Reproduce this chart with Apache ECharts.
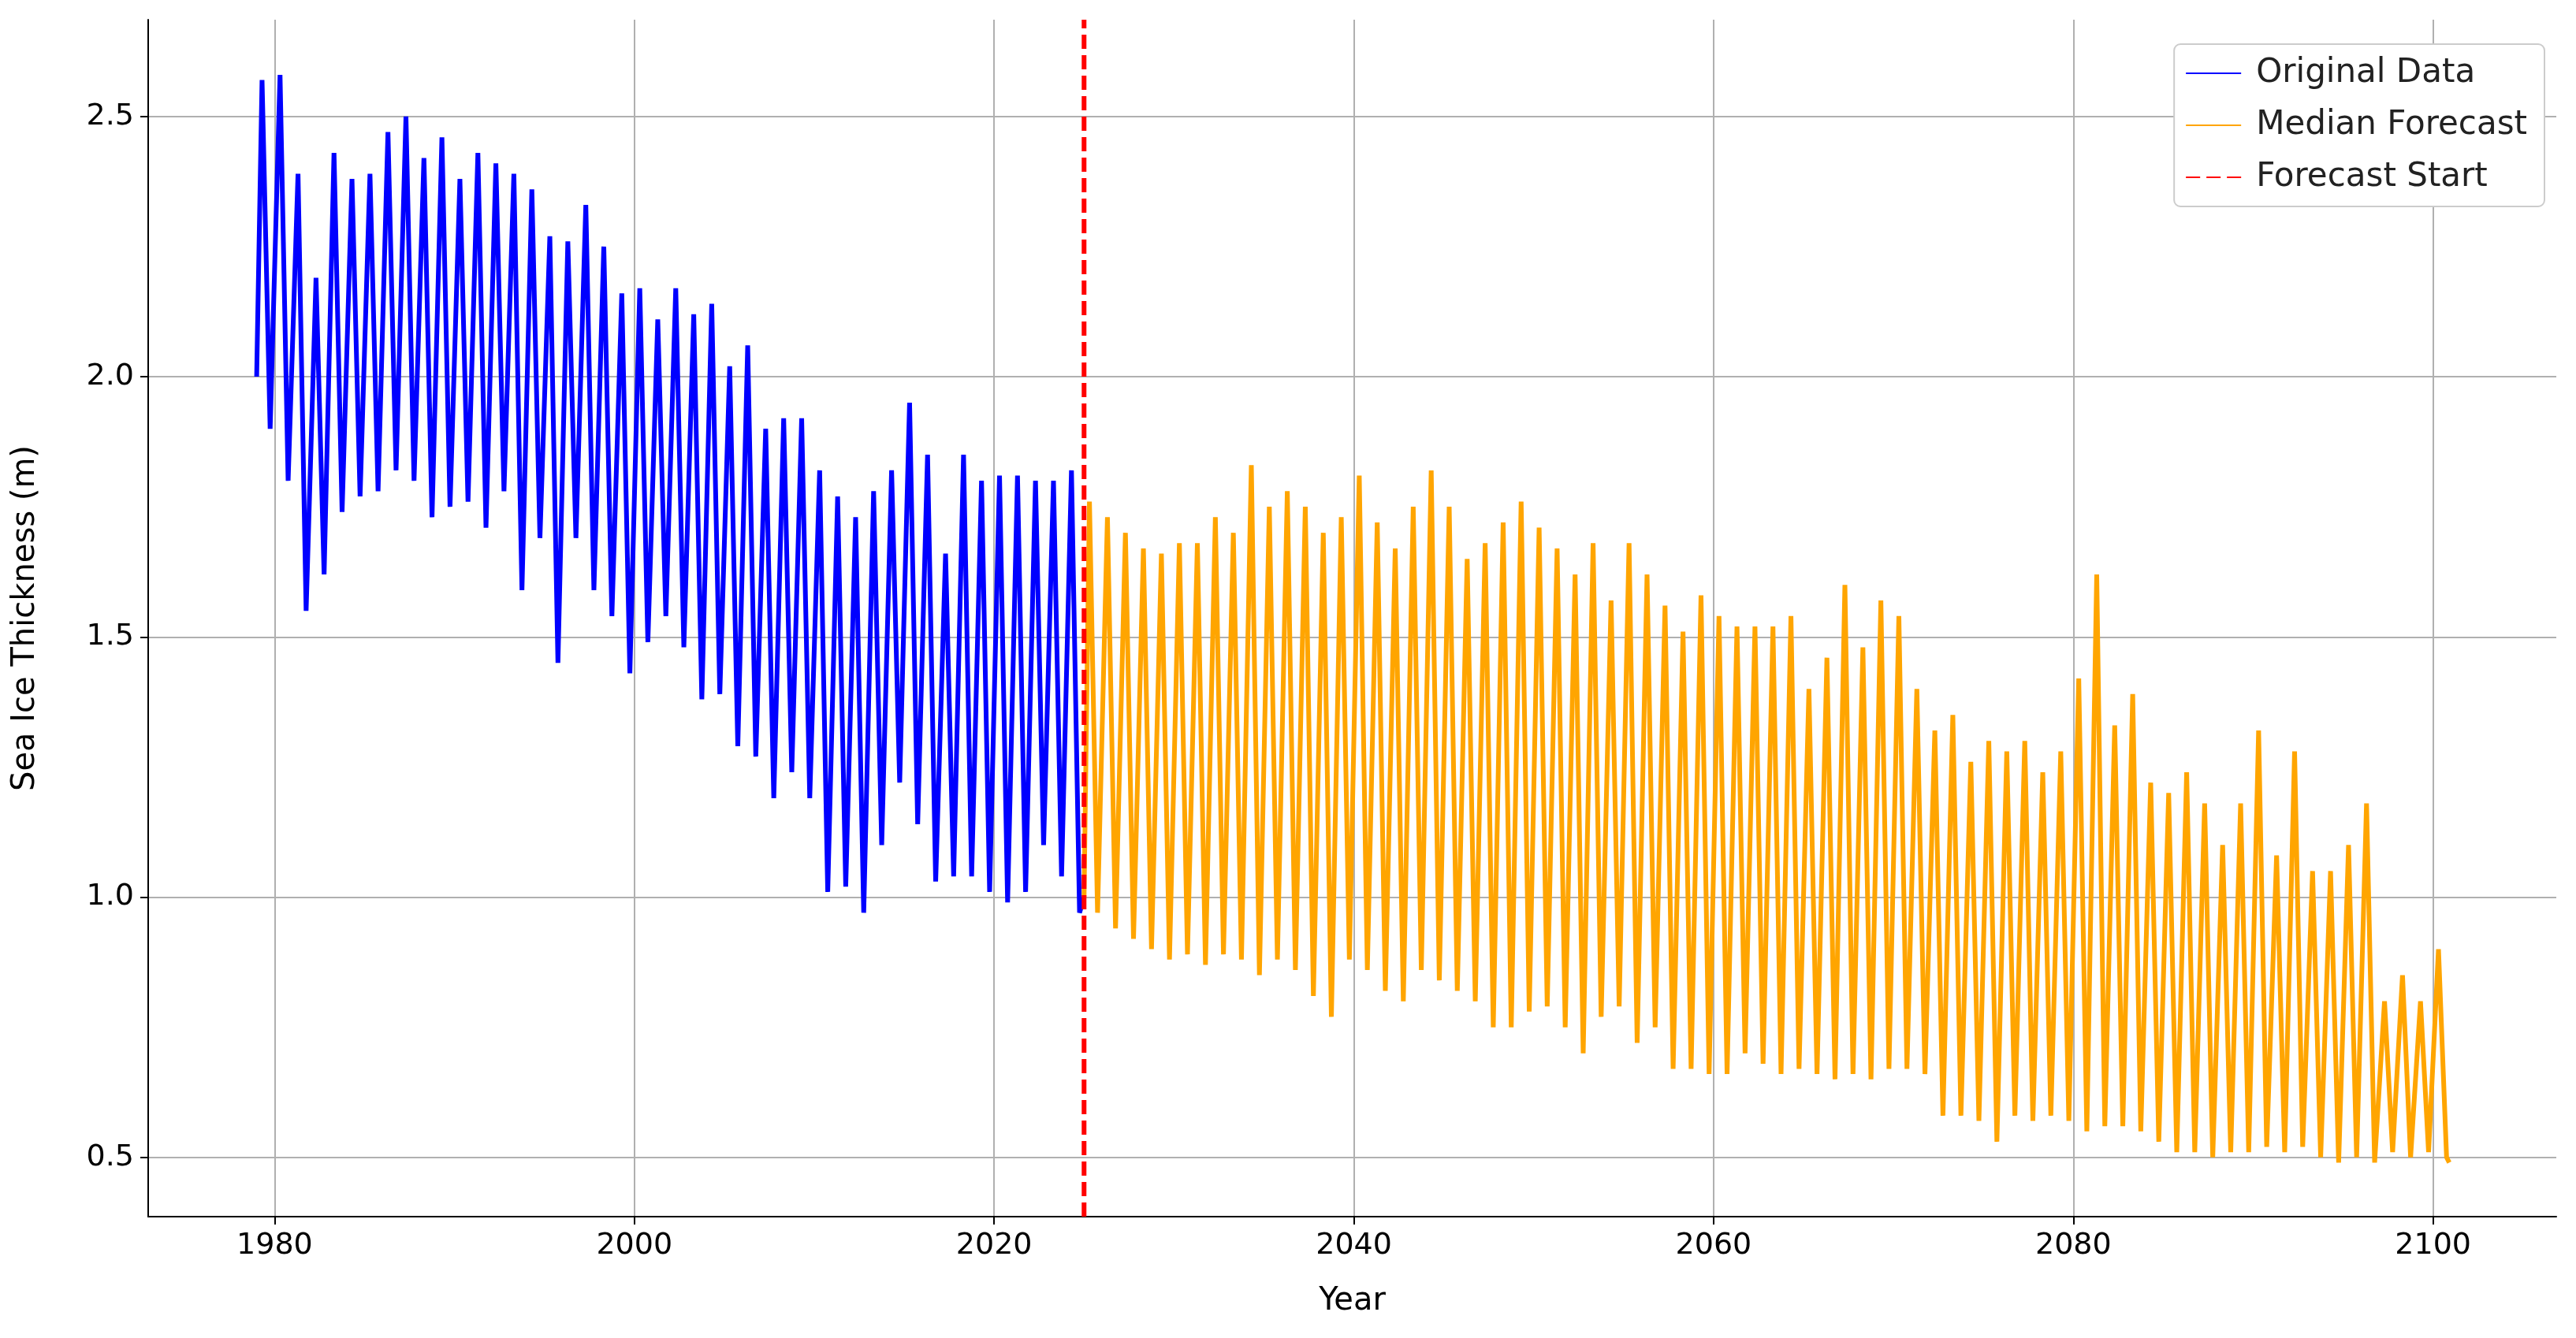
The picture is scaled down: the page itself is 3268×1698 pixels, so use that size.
<!DOCTYPE html>
<html>
<head>
<meta charset="utf-8">
<script src="https://cdn.jsdelivr.net/npm/echarts@6/dist/echarts.min.js"></script>
<style>html,body{margin:0;padding:0;background:#fff}#chart{width:3268px;height:1698px}</style>
</head>
<body>
<div id="chart"></div>
<script>
// annual peak (spring) and trough (autumn) thickness
const obsYears = [];
for (let y = 1979; y <= 2024; y++) obsYears.push(y);
const obsPeaks = [2.57, 2.58, 2.39, 2.19, 2.43, 2.38, 2.39, 2.47, 2.50, 2.42, 2.46, 2.38, 2.43, 2.41, 2.39, 2.36,
	2.27, 2.26, 2.33, 2.25, 2.16, 2.17, 2.11, 2.17, 2.12, 2.14, 2.02, 2.06, 1.90, 1.92, 1.92, 1.82, 1.77, 1.73,
	1.78, 1.82, 1.95, 1.85, 1.66, 1.85, 1.80, 1.81, 1.81, 1.80, 1.80, 1.82];
const obsTroughs = [1.90, 1.80, 1.55, 1.62, 1.74, 1.77, 1.78, 1.82, 1.80, 1.73, 1.75, 1.76, 1.71, 1.78, 1.59, 1.69,
	1.45, 1.69, 1.59, 1.54, 1.43, 1.49, 1.54, 1.48, 1.38, 1.39, 1.29, 1.27, 1.19, 1.24, 1.19, 1.01, 1.02, 0.97,
	1.10, 1.22, 1.14, 1.03, 1.04, 1.04, 1.01, 0.99, 1.01, 1.10, 1.04, 0.97];

const fcYears = [];
for (let y = 2025; y <= 2100; y++) fcYears.push(y);
const fcPeaks = [1.76, 1.73, 1.70, 1.67, 1.66, 1.68, 1.68, 1.73, 1.70, 1.83, 1.75, 1.78, 1.75, 1.70, 1.73, 1.81,
	1.72, 1.67, 1.75, 1.82, 1.75, 1.65, 1.68, 1.72, 1.76, 1.71, 1.67, 1.62, 1.68, 1.57, 1.68, 1.62, 1.56, 1.51,
	1.58, 1.54, 1.52, 1.52, 1.52, 1.54, 1.40, 1.46, 1.60, 1.48, 1.57, 1.54, 1.40, 1.32, 1.35, 1.26, 1.30, 1.28,
	1.30, 1.24, 1.28, 1.42, 1.62, 1.33, 1.39, 1.22, 1.20, 1.24, 1.18, 1.10, 1.18, 1.32, 1.08, 1.28, 1.05, 1.05,
	1.10, 1.18, 0.80, 0.85, 0.80, 0.90];
const fcTroughs = [0.97, 0.94, 0.92, 0.90, 0.88, 0.89, 0.87, 0.89, 0.88, 0.85, 0.88, 0.86, 0.81, 0.77, 0.88, 0.86,
	0.82, 0.80, 0.86, 0.84, 0.82, 0.80, 0.75, 0.75, 0.78, 0.79, 0.75, 0.70, 0.77, 0.79, 0.72, 0.75, 0.67, 0.67,
	0.66, 0.66, 0.70, 0.68, 0.66, 0.67, 0.66, 0.65, 0.66, 0.65, 0.67, 0.67, 0.66, 0.58, 0.58, 0.57, 0.53, 0.58,
	0.57, 0.58, 0.57, 0.55, 0.56, 0.56, 0.55, 0.53, 0.51, 0.51, 0.50, 0.51, 0.51, 0.52, 0.51, 0.52, 0.50, 0.49,
	0.50, 0.49, 0.51, 0.50, 0.51, 0.50];

const xTicks = [1980, 2000, 2020, 2040, 2060, 2080, 2100];
const yTicks = [0.5, 1.0, 1.5, 2.0, 2.5];
const forecastStart = 2025.0;

const xMin = 1972.97, xMax = 2106.85, yMin = 0.386, yMax = 2.686;

const toSeries = (years, peaks, troughs) => {
	const out = [];
	years.forEach((y, i) => {
		out.push([y + 0.3, peaks[i]]);
		out.push([y + 0.75, troughs[i]]);
	});
	return out;
};
const obsData = [[1979.0, 2.0]].concat(toSeries(obsYears, obsPeaks, obsTroughs), [[2025.0, 1.0]]);
const fcData = [[2025.0, 1.0]].concat(toSeries(fcYears, fcPeaks, fcTroughs), [[2100.9, 0.49]]);

const font = "DejaVu Sans";
const chart = echarts.init(document.getElementById("chart"));
chart.setOption({
	animation: false,
	textStyle: { fontFamily: font },
	grid: { left: 188, right: 25, top: 25, bottom: 154 },
	legend: {
		right: 40, top: 56, orient: "vertical", itemGap: 24, itemWidth: 70, itemHeight: 14,
		padding: [16, 22, 16, 14], borderColor: "#cccccc", borderWidth: 2, borderRadius: 8, backgroundColor: "#fff",
		itemStyle: { opacity: 0 },
		textStyle: { fontSize: 42, color: "#222", fontFamily: font, padding: [0, 0, 0, 14] },
		data: ["Original Data", "Median Forecast", "Forecast Start"]
	},
	xAxis: {
		type: "value", min: xMin, max: xMax,
		name: "Year", nameLocation: "middle", nameGap: 88,
		nameTextStyle: { fontSize: 40, color: "#000" },
		axisLine: { onZero: false, lineStyle: { color: "#000", width: 2 } },
		axisTick: { customValues: xTicks, length: 10, lineStyle: { color: "#000", width: 2 } },
		axisLabel: { customValues: xTicks, fontSize: 38, color: "#000", margin: 18, formatter: v => String(v) },
		splitLine: { show: true, lineStyle: { color: "#b0b0b0", width: 2 } }
	},
	yAxis: {
		type: "value", min: yMin, max: yMax,
		name: "Sea Ice Thickness (m)", nameLocation: "middle", nameGap: 135, nameRotate: 90,
		nameTextStyle: { fontSize: 40, color: "#000" },
		axisLine: { show: true, lineStyle: { color: "#000", width: 2 } },
		axisTick: { show: true, customValues: yTicks, length: 10, lineStyle: { color: "#000", width: 2 } },
		axisLabel: { customValues: yTicks, fontSize: 38, color: "#000", margin: 18, formatter: v => v.toFixed(1) },
		splitLine: { show: true, lineStyle: { color: "#b0b0b0", width: 2 } }
	},
	series: [
		{ name: "Original Data", type: "line", data: obsData, showSymbol: false, symbol: "none",
			lineStyle: { color: "#0000ff", width: 6 }, itemStyle: { color: "#0000ff" } },
		{ name: "Median Forecast", type: "line", data: fcData, showSymbol: false, symbol: "none",
			lineStyle: { color: "#ffa500", width: 6 }, itemStyle: { color: "#ffa500" } },
		{ name: "Forecast Start", type: "line", data: [[forecastStart, yMin], [forecastStart, yMax]],
			showSymbol: false, symbol: "none", z: 5,
			lineStyle: { color: "#ff0000", width: 6, type: [18, 8] }, itemStyle: { color: "#ff0000" } }
	]
});
</script>
</body>
</html>
